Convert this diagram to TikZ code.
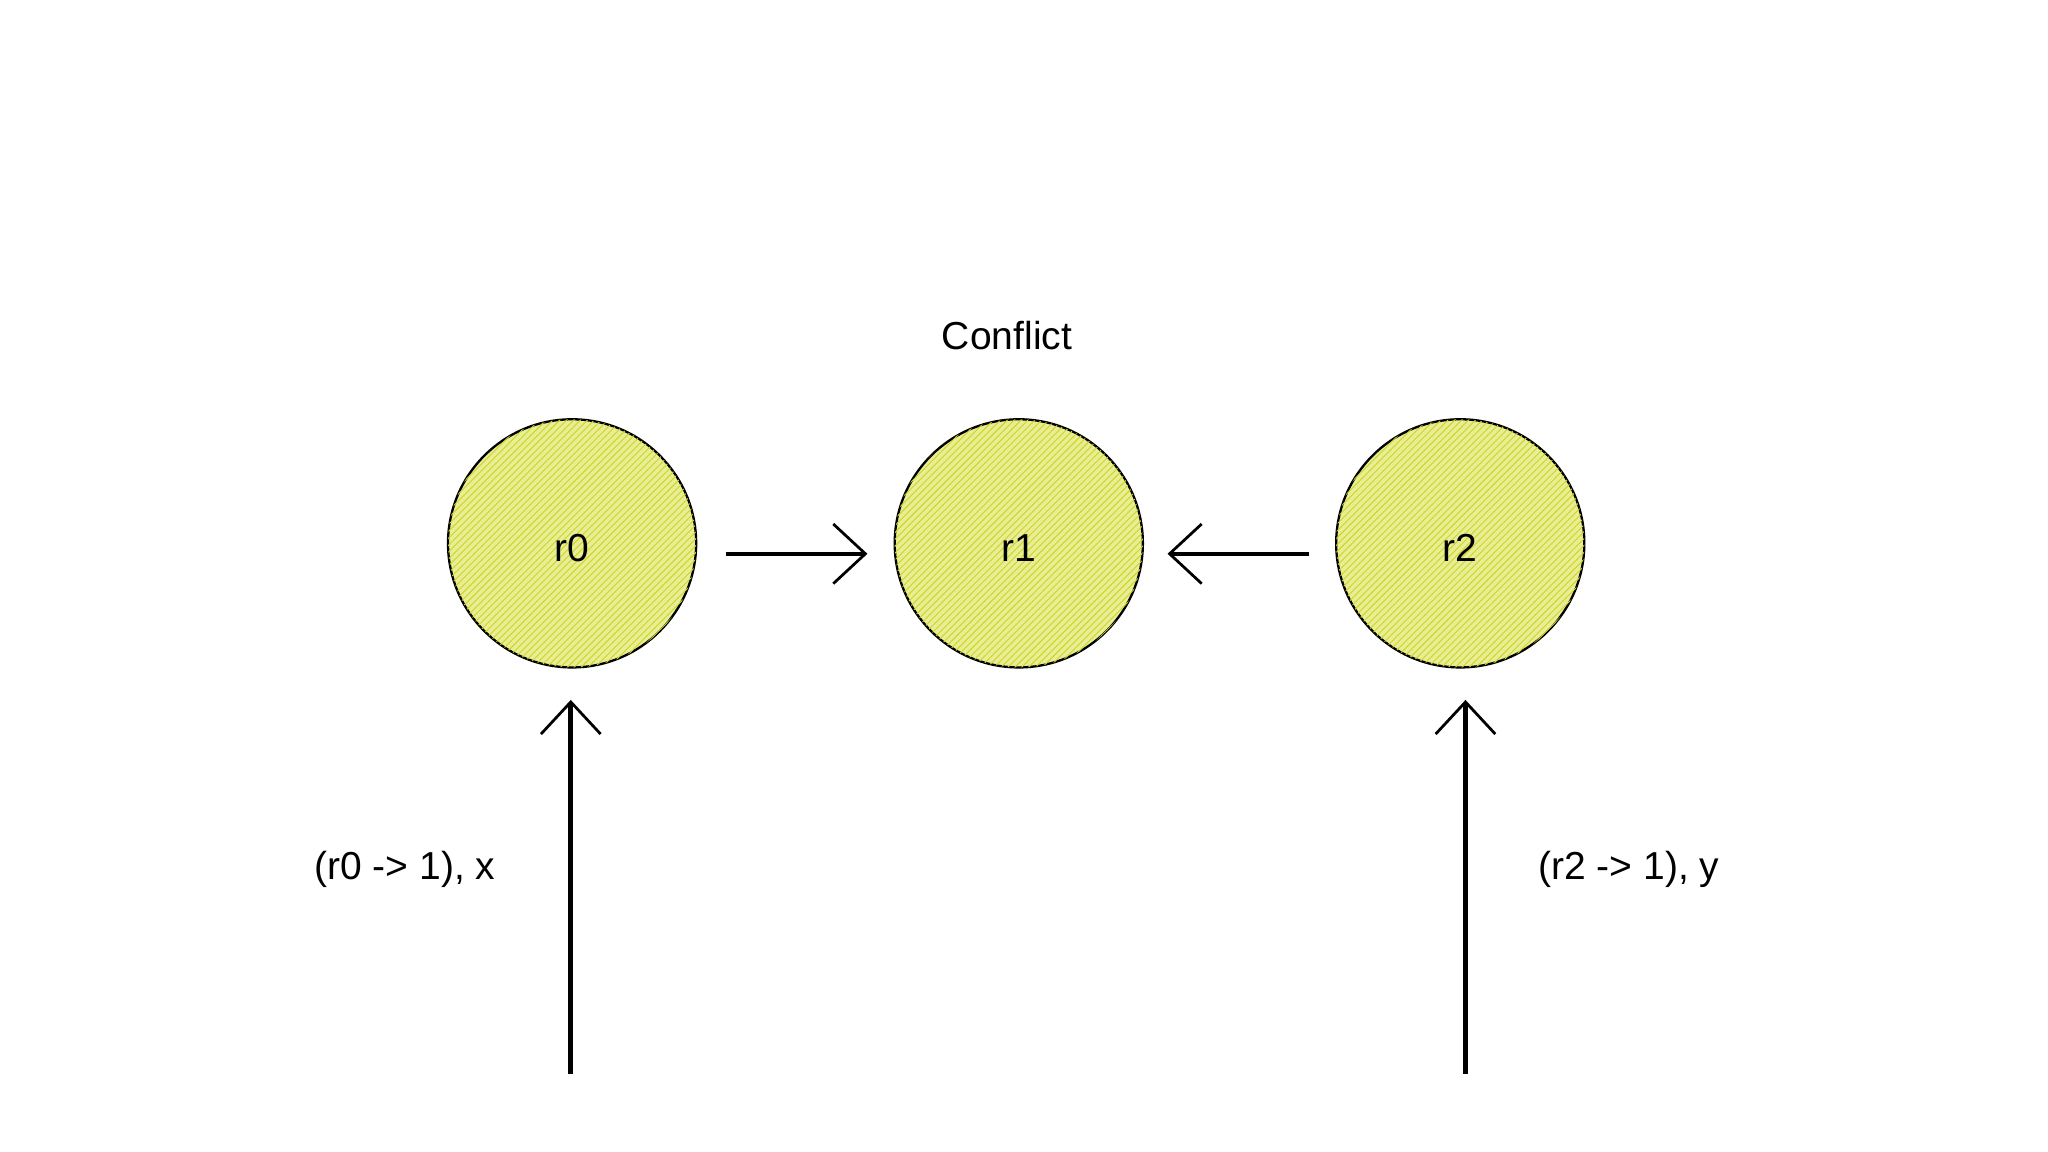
\documentclass[tikz,border=0pt]{standalone}
\usepackage{fontspec}
\setmainfont{Liberation Sans}
\usetikzlibrary{arrows.meta,patterns}
\definecolor{hatch}{RGB}{205,215,30}
\definecolor{hbg}{RGB}{232,237,150}
\tikzset{
  res/.style={circle,draw=black,line width=1pt,minimum size=190*0.02cm,inner sep=0pt,
    fill=hbg,postaction={pattern=north east lines,pattern color=hatch},font=\fontsize{17}{20}\selectfont},
  conn/.style={line width=2pt,-{Straight Barb[length=14pt,width=26pt,line width=1.2pt]}},
  lbl/.style={font=\fontsize{17}{20}\selectfont}
}
\begin{document}
\begin{tikzpicture}[x=0.02cm,y=-0.02cm]
\useasboundingbox (0,0) rectangle (1568,882);
\node[res] (r0) at (438,416) {\smash{\raisebox{-8pt}{r0}}};
\node[res] (r1) at (780,416) {\smash{\raisebox{-8pt}{r1}}};
\node[res] (r2) at (1118,416) {\smash{\raisebox{-8pt}{r2}}};
\node[lbl] (conf) at (771,257) {Conflict};
\coordinate (a0) at (437,822);
\coordinate (a2) at (1122,822);
\draw[conn] (r0.east)++(22,8) -- ([shift={(-20,8)}]r1.west);
\draw[conn] (r2.west)++(-20,8) -- ([shift={(18,8)}]r1.east);
\draw[conn] (a0) -- ([shift={(-1,24)}]r0.south);
\draw[conn] (a2) -- ([shift={(4,24)}]r2.south);
\node[lbl] (l0) at (310,666) {(r0 -> 1), x};
\node[lbl] (l2) at (1247,666) {(r2 -> 1), y};
\end{tikzpicture}
\end{document}
